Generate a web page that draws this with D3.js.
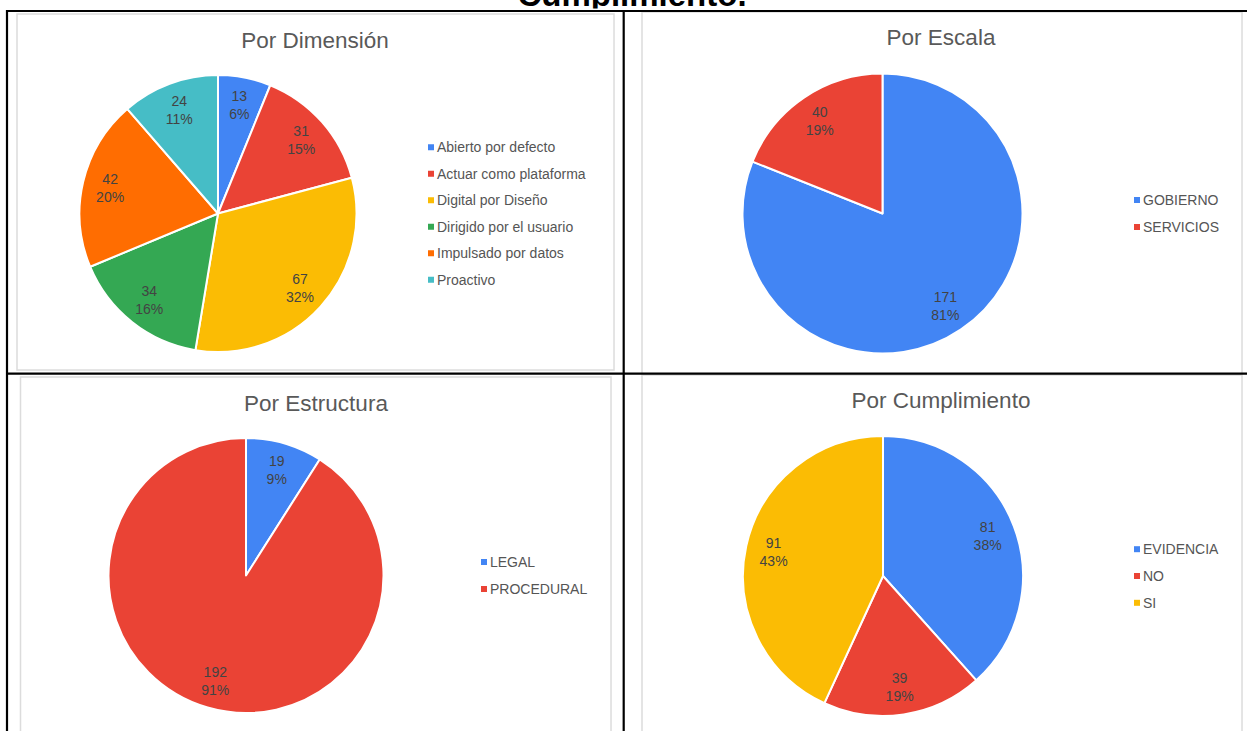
<!DOCTYPE html>
<html>
<head>
<meta charset="utf-8">
<script src="https://cdn.jsdelivr.net/npm/d3@7"></script>
<style>
  html, body { margin: 0; padding: 0; background: #ffffff; }
  svg { display: block; }
</style>
</head>
<body>
<svg id="chart" width="1247" height="731"></svg>
<script>
// ---------------- DATA ----------------
const pageTitle = "Cumplimiento.";

const dimTitle = "Por Dimensión";
const dimCategories = ["Abierto por defecto", "Actuar como plataforma", "Digital por Diseño", "Dirigido por el usuario", "Impulsado por datos", "Proactivo"];
const dimValues = [13, 31, 67, 34, 42, 24];
const dimPercents = ["6%", "15%", "32%", "16%", "20%", "11%"];

const escTitle = "Por Escala";
const escCategories = ["GOBIERNO", "SERVICIOS"];
const escValues = [171, 40];
const escPercents = ["81%", "19%"];

const estTitle = "Por Estructura";
const estCategories = ["LEGAL", "PROCEDURAL"];
const estValues = [19, 192];
const estPercents = ["9%", "91%"];

const cumTitle = "Por Cumplimiento";
const cumCategories = ["EVIDENCIA", "NO", "SI"];
const cumValues = [81, 39, 91];
const cumPercents = ["38%", "19%", "43%"];

const palette = ["#4285F4", "#EA4335", "#FBBC04", "#34A853", "#FF6D01", "#46BDC6"];

// ---------------- LAYOUT ----------------
const svg = d3.select("#chart");
const FONT = "'Liberation Sans', Arial, sans-serif";

const panels = [
  { title: dimTitle, cats: dimCategories, vals: dimValues, pcts: dimPercents,
    box: [17, 14, 614, 370], titleX: 315, titleY: 48, cx: 218, cy: 213.5, r: 138.5, legX: 428, legStep: 26.5 },
  { title: escTitle, cats: escCategories, vals: escValues, pcts: escPercents,
    box: [642, 12, 1242, 374], titleX: 941, titleY: 45, cx: 882.5, cy: 213.5, r: 140, legX: 1134, legStep: 27 },
  { title: estTitle, cats: estCategories, vals: estValues, pcts: estPercents,
    box: [20.5, 377, 611, 740], titleX: 316, titleY: 411, cx: 246, cy: 575.5, r: 137.5, legX: 481, legStep: 27 },
  { title: cumTitle, cats: cumCategories, vals: cumValues, pcts: cumPercents,
    box: [642, 375, 1242, 740], titleX: 941, titleY: 408, cx: 883, cy: 576, r: 140, legX: 1134, legStep: 26.8 }
];

// panel frames (Google-chart style light borders)
panels.forEach(p => {
  const [x0, y0, x1, y1] = p.box;
  svg.append("rect")
    .attr("x", x0).attr("y", y0)
    .attr("width", x1 - x0).attr("height", y1 - y0)
    .attr("fill", "#ffffff")
    .attr("stroke", "#dcdcdc")
    .attr("stroke-width", 1.5);
});

panels.forEach(p => {
  const g = svg.append("g");
  g.append("text")
    .attr("x", p.titleX).attr("y", p.titleY)
    .attr("text-anchor", "middle")
    .attr("font-family", FONT)
    .attr("font-size", 22.5)
    .attr("fill", "#595959")
    .text(p.title);

  const pie = d3.pie().sort(null).value(d => d)
    .startAngle(0).endAngle(2 * Math.PI);
  const arcs = pie(p.vals);
  const arc = d3.arc().innerRadius(0).outerRadius(p.r);
  const labelArc = d3.arc().innerRadius(p.r * 0.8).outerRadius(p.r * 0.8);
  const c = d3.scaleOrdinal().domain(p.cats).range(palette);

  const pg = g.append("g").attr("transform", `translate(${p.cx},${p.cy})`);
  pg.selectAll("path.slice").data(arcs).enter().append("path")
    .attr("class", "slice")
    .attr("d", arc)
    .attr("fill", (d, i) => c(p.cats[i]))
    .attr("stroke", "#ffffff")
    .attr("stroke-width", 2)
    .attr("stroke-linejoin", "round");

  const lab = pg.selectAll("text.lbl").data(arcs).enter().append("text")
    .attr("class", "lbl")
    .attr("transform", d => `translate(${labelArc.centroid(d)})`)
    .attr("text-anchor", "middle")
    .attr("font-family", FONT)
    .attr("font-size", 14)
    .attr("fill", "#434343");
  lab.append("tspan").attr("x", 0).attr("y", -4).text(d => d.value);
  lab.append("tspan").attr("x", 0).attr("y", 14).text((d, i) => p.pcts[i]);

  // legend
  const n = p.cats.length;
  const y0 = p.cy - (n - 1) * p.legStep / 2;
  const leg = g.selectAll("g.leg").data(p.cats).enter().append("g")
    .attr("class", "leg")
    .attr("transform", (d, i) => `translate(${p.legX},${y0 + i * p.legStep})`);
  leg.append("rect")
    .attr("x", 0).attr("y", -3)
    .attr("width", 6).attr("height", 6)
    .attr("fill", d => c(d));
  leg.append("text")
    .attr("x", 9).attr("y", 5)
    .attr("font-family", FONT)
    .attr("font-size", 14)
    .attr("fill", "#555555")
    .text(d => d);
});

// table grid lines (black)
const lines = [
  [6, 11, 1247, 11],
  [7, 10, 7, 731],
  [623.7, 10, 623.7, 731],
  [6, 373.7, 1247, 373.7]
];
svg.selectAll("line.grid").data(lines).enter().append("line")
  .attr("class", "grid")
  .attr("x1", d => d[0]).attr("y1", d => d[1])
  .attr("x2", d => d[2]).attr("y2", d => d[3])
  .attr("stroke", "#000000")
  .attr("stroke-width", 2.2);

// page title, cut off at the top edge as in the source document
svg.append("defs").append("clipPath").attr("id", "titleClip")
  .append("rect").attr("x", 0).attr("y", 0).attr("width", 1247).attr("height", 8.5);
svg.append("text")
  .attr("clip-path", "url(#titleClip)")
  .attr("x", 632).attr("y", 6)
  .attr("text-anchor", "middle")
  .attr("font-family", "'Liberation Sans', Arial, sans-serif")
  .attr("font-weight", "bold")
  .attr("font-size", 33)
  .attr("fill", "#000000")
  .text(pageTitle);
</script>
</body>
</html>
